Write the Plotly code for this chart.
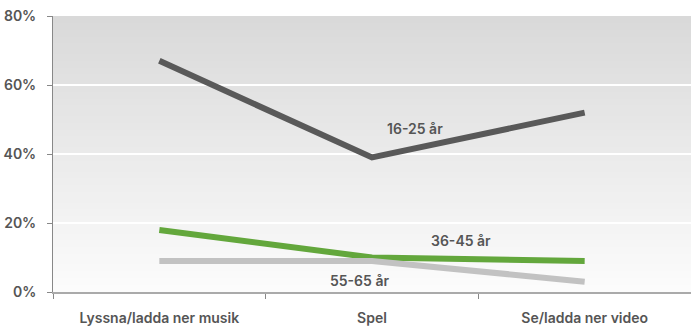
import plotly.graph_objects as go

categories = ["Lyssna/ladda ner musik", "Spel", "Se/ladda ner video"]
age_16_25 = [67, 39, 52]
age_36_45 = [18, 10, 9]
age_55_65 = [9, 9, 3]

series = [
    ("16-25 år", age_16_25, "#595959"),
    ("36-45 år", age_36_45, "#63a73c"),
    ("55-65 år", age_55_65, "#c2c2c2"),
]

# label anchor (category position, value) for each series name
label_pos = {
    "16-25 år": (1.2, 47.5),
    "36-45 år": (1.42, 14.8),
    "55-65 år": (0.94, 3.2),
}

FONT = "Inter, Liberation Sans, Arial"
TEXT = "#555555"

fig = go.Figure()
for name, vals, color in series:
    fig.add_trace(go.Scatter(
        x=categories, y=vals, mode="lines", name=name,
        line=dict(color=color, width=6), hoverinfo="skip",
    ))

# vertical gradient background: overlapping rectangles (no seams)
steps = 80
top = (217, 217, 217)
bot = (252, 252, 252)
shapes = []
for i in range(steps):
    t = i / (steps - 1)
    c = tuple(round(top[k] + (bot[k] - top[k]) * t) for k in range(3))
    shapes.append(dict(
        type="rect", xref="paper", yref="paper", x0=0, x1=1,
        y0=0, y1=1 - i / steps,
        fillcolor="rgb(%d,%d,%d)" % c, line=dict(width=0), layer="below",
    ))

annotations = []
for name, _, _ in series:
    cx, cy = label_pos[name]
    annotations.append(dict(
        x=cx, y=cy, xref="x", yref="y", text=name, showarrow=False,
        font=dict(family=FONT, size=14, color=TEXT, weight=600),
    ))

fig.update_layout(
    width=691, height=326,
    margin=dict(l=53, r=0, t=16, b=34),
    paper_bgcolor="white",
    plot_bgcolor="rgba(0,0,0,0)",
    showlegend=False,
    shapes=shapes,
    annotations=annotations,
    font=dict(family=FONT, size=14, color=TEXT, weight=600),
    xaxis=dict(
        range=[-0.5, 2.5], tickson="boundaries", ticks="outside", ticklen=5,
        tickcolor="#888888", showgrid=False, showline=True, linecolor="#aaaaaa",
        linewidth=2, fixedrange=True, ticklabelstandoff=12,
        tickfont=dict(family=FONT, size=14, color=TEXT, weight=600),
    ),
    yaxis=dict(
        range=[0, 80], tickvals=[0, 20, 40, 60, 80],
        ticktext=["0%", "20%", "40%", "60%", "80%"],
        ticks="outside", ticklen=5, tickcolor="#888888",
        showline=True, linecolor="#888888", linewidth=1,
        showgrid=True, gridcolor="white", gridwidth=2,
        zeroline=False, fixedrange=True, ticklabelstandoff=8,
        tickfont=dict(family=FONT, size=14, color=TEXT, weight=600),
    ),
)

fig.write_html("out.html")
